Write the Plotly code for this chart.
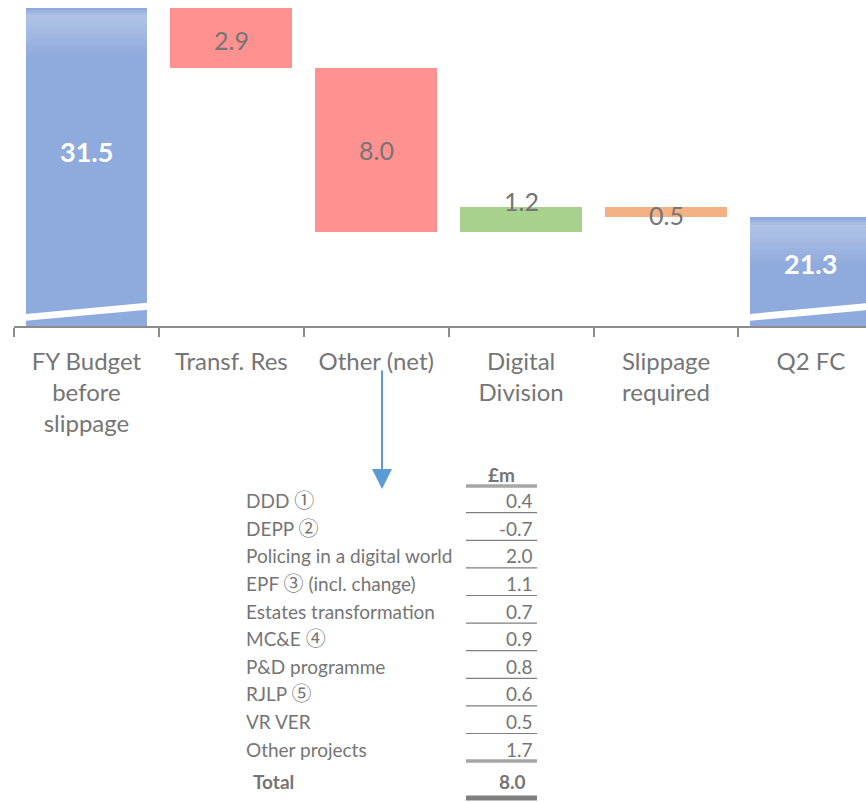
import plotly.graph_objects as go

# ---------------- data ----------------
categories = ["FY Budget<br>before<br>slippage", "Transf. Res", "Other (net)",
              "Digital<br>Division", "Slippage<br>required", "Q2 FC"]
start_value = 31.5
changes = [-2.9, -8.0, 1.2, -0.5]          # Transf. Res, Other, Digital, Slippage
end_value = 21.3
change_colors = ["#FF9191", "#FF9191", "#A9D18E", "#F4B183"]

table_labels = ["DDD", "DEPP", "Policing in a digital world",
                "EPF", "Estates transformation", "MC&E",
                "P&D programme", "RJLP", "VR VER", "Other projects"]
table_marks = ["\u2460", "\u2461", "", "\u2462", "", "\u2463", "", "\u2464", "", ""]
table_suffix = ["", "", "", " (incl. change)", "", "", "", "", "", ""]
table_values = [0.4, -0.7, 2.0, 1.1, 0.7, 0.9, 0.8, 0.6, 0.5, 1.7]
table_total = 8.0
table_header = "£m"

# ---------------- layout constants ----------------
W, H = 866, 802
ML, MT = 14, 0
PLOT_H = 326
PLOT_W = W - ML
Y_MIN, Y_MAX = 16.0, 31.89
BAR_W = 0.84
BLUE = "#8FAADC"
GRAY_TXT = "#757575"
FONT = "Lato"
TFS = 19

def pxx(px):
    return (px - ML) / PLOT_W

def pxy(py):
    return (MT + PLOT_H - py) / PLOT_H

fig = go.Figure()

# waterfall geometry from data
levels = [start_value]
for c in changes:
    levels.append(levels[-1] + c)
bases, heights, colors = [], [], []
bases.append(0); heights.append(start_value); colors.append(BLUE)
for i, c in enumerate(changes):
    lo = min(levels[i], levels[i + 1])
    bases.append(lo); heights.append(abs(c)); colors.append(change_colors[i])
bases.append(0); heights.append(end_value); colors.append(BLUE)
xs = list(range(len(categories)))

fig.add_trace(go.Bar(x=xs, y=heights, base=bases, width=BAR_W,
                     marker=dict(color=colors, line=dict(width=0)),
                     hoverinfo="skip", showlegend=False))

# gradient sheen on top of the blue bars (stacked thin segments)
def mix(c1, c2, t):
    a = [int(c1[i:i + 2], 16) for i in (1, 3, 5)]
    b = [int(c2[i:i + 2], 16) for i in (1, 3, 5)]
    return "#%02x%02x%02x" % tuple(round(a[k] + (b[k] - a[k]) * t) for k in range(3))

seg_h = 0.12
n_seg = 20
for idx, top in ((0, start_value), (len(categories) - 1, end_value)):
    for s in range(n_seg):
        t = s / (n_seg - 1)
        if t < 0.15:
            f = t / 0.15
        else:
            f = max(0.0, 1 - (t - 0.15) / 0.85)
        col = mix(BLUE, "#B4C6E7", f * 0.9)
        fig.add_trace(go.Bar(x=[idx], y=[seg_h], base=[top - (s + 1) * seg_h],
                             width=BAR_W, marker=dict(color=col, line=dict(width=0)),
                             hoverinfo="skip", showlegend=False))

# axis-break marks (white slanted bands) on the blue bars
for idx in (0, len(categories) - 1):
    xl, xr = idx - BAR_W / 2, idx + BAR_W / 2
    fig.add_trace(go.Scatter(
        x=[xl, xr, xr, xl, xl],
        y=[Y_MIN + 0.25, Y_MIN + 0.79, Y_MIN + 1.13, Y_MIN + 0.59, Y_MIN + 0.25],
        fill="toself", fillcolor="white", mode="lines", line=dict(width=0, color="white"),
        hoverinfo="skip", showlegend=False))

# value labels
value_texts = [f"{start_value:.1f}"] + [f"{abs(c):.1f}" for c in changes] + [f"{end_value:.1f}"]
label_mid = []
label_mid.append((Y_MIN + start_value) / 2)
for i in range(len(changes)):
    label_mid.append((levels[i] + levels[i + 1]) / 2)
label_mid.append((Y_MIN + end_value) / 2)
label_shift = [16, -2, 0, 18, -3, 8]
for i, (t, ym) in enumerate(zip(value_texts, label_mid)):
    blue = i in (0, len(categories) - 1)
    fig.add_annotation(x=i, y=ym, xref="x", yref="y", text=f"<b>{t}</b>" if blue else t,
                       showarrow=False, yshift=label_shift[i],
                       font=dict(family=FONT, size=27 if blue else 25,
                                 color="white" if blue else GRAY_TXT))

# axes
fig.update_xaxes(range=[-0.5, 5.38], tickmode="array", tickvals=xs, ticktext=categories,
                 ticks="outside", ticklen=13, tickcolor="rgba(0,0,0,0)",
                 showline=True, linecolor="#8C8C8C", linewidth=1.5,
                 showgrid=False, zeroline=False,
                 tickfont=dict(family=FONT, size=24, color=GRAY_TXT),
                 minor=dict(tickmode="array", tickvals=[i - 0.5 for i in range(len(categories) + 1)],
                            ticks="outside", ticklen=9, tickcolor="#8C8C8C", tickwidth=1.5,
                            showgrid=False))
fig.update_yaxes(range=[Y_MIN, Y_MAX], visible=False, showgrid=False, zeroline=False)

# ---------------- breakdown table ----------------
LBL_X, VAL_R, LINE_L, LINE_R = 244, 535, 466, 537
FIRST_LINE, ROW_STEP = 512.7, 27.6
shapes = []
for r, (lab, mk, suf, val) in enumerate(zip(table_labels, table_marks, table_suffix, table_values)):
    line_y = FIRST_LINE + r * ROW_STEP
    ty = line_y - 12
    txt = lab
    if mk:
        txt += f' <span style="font-family:Noto Sans CJK JP;font-size:20px">{mk}</span>'
    txt += suf
    fig.add_annotation(x=pxx(LBL_X), y=pxy(ty), xref="paper", yref="paper", text=txt,
                       xanchor="left", yanchor="middle", showarrow=False,
                       yshift=1 if mk else 0,
                       font=dict(family=FONT, size=TFS, color=GRAY_TXT))
    fig.add_annotation(x=pxx(VAL_R), y=pxy(ty), xref="paper", yref="paper", text=f"{val:.1f}",
                       xanchor="right", yanchor="middle", showarrow=False,
                       font=dict(family=FONT, size=TFS, color=GRAY_TXT))
    last = r == len(table_labels) - 1
    shapes.append(dict(type="line", xref="paper", yref="paper",
                       x0=pxx(LINE_L), x1=pxx(LINE_R), y0=pxy(line_y), y1=pxy(line_y),
                       line=dict(color="#A6A6A6" if last else "#7F7F7F", width=3.5 if last else 1.2)))
# header
fig.add_annotation(x=pxx(501), y=pxy(474), xref="paper", yref="paper", text=f"<b>{table_header}</b>",
                   showarrow=False, xanchor="center", yanchor="middle",
                   font=dict(family=FONT, size=TFS, color=GRAY_TXT))
shapes.append(dict(type="line", xref="paper", yref="paper", x0=pxx(LINE_L), x1=pxx(LINE_R),
                   y0=pxy(486), y1=pxy(486), line=dict(color="#A6A6A6", width=3.5)))
# total
total_y = FIRST_LINE + (len(table_labels) - 1) * ROW_STEP + 20
fig.add_annotation(x=pxx(251), y=pxy(total_y), xref="paper", yref="paper", text="<b>Total</b>",
                   showarrow=False, xanchor="left", yanchor="middle",
                   font=dict(family=FONT, size=TFS, color=GRAY_TXT))
fig.add_annotation(x=pxx(528), y=pxy(total_y), xref="paper", yref="paper", text=f"<b>{table_total:.1f}</b>",
                   showarrow=False, xanchor="right", yanchor="middle",
                   font=dict(family=FONT, size=TFS, color=GRAY_TXT))
shapes.append(dict(type="line", xref="paper", yref="paper", x0=pxx(LINE_L), x1=pxx(LINE_R),
                   y0=pxy(798), y1=pxy(798), line=dict(color="#7F7F7F", width=5)))

# arrow from "Other (net)" down to the table
fig.add_annotation(x=pxx(382), y=pxy(489), xref="paper", yref="paper", text="",
                   showarrow=True, ax=0, ay=-120, axref="pixel", ayref="pixel",
                   arrowhead=2, arrowsize=2.0, arrowwidth=2, arrowcolor="#5B9BD5", standoff=0)

fig.update_layout(width=W, height=H, autosize=False,
                  margin=dict(l=ML, r=0, t=MT, b=H - MT - PLOT_H, pad=0),
                  paper_bgcolor="white", plot_bgcolor="white",
                  barmode="overlay", bargap=0, showlegend=False, shapes=shapes)

fig.write_html("out.html", config={"displayModeBar": False},
               post_script="document.body.style.margin='0';document.body.style.overflow='hidden';")
